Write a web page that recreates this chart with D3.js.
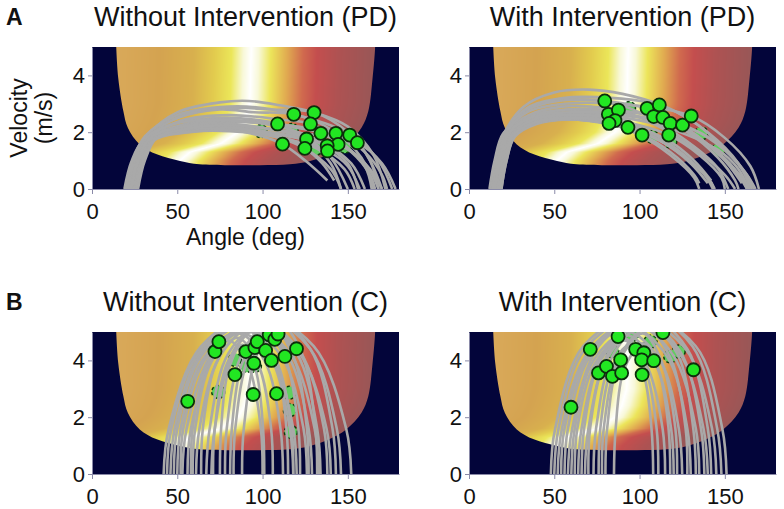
<!DOCTYPE html>
<html>
<head>
<meta charset="utf-8">
<script src="https://cdn.jsdelivr.net/npm/d3@7"></script>
<style>
  body { margin: 0; background: #fff; }
  text { font-family: "Liberation Sans", Arial, sans-serif; }
</style>
</head>
<body>
<script>
// ---- tick labels ----
const angleTicks = [0, 50, 100, 150];
const velTicks = [0, 2, 4];

// ---- edge of the coloured region (angle, lowest velocity) ----
const edgeAngle = [14, 14.2, 15.4, 18.4, 21, 28, 38, 51.6, 63, 90, 116, 128, 139, 149, 158, 162, 164.5, 166, 166];
const edgeVel   = [5.4, 5, 3.9, 2.74, 2.16, 1.57, 1.22, 0.99, 0.87, 0.84, 0.87, 0.99, 1.22, 1.57, 2.16, 2.74, 3.9, 5, 5.4];

// ---- colour bands along angle (read at the top of the map) ----
const stopAngle = [14, 40, 60, 72, 82, 89, 93.5, 98, 105, 115, 124, 132, 145, 166];
const stopColor = ["#d9a95a", "#d4a350", "#d8b04e", "#e2cb4e", "#ebe659", "#f8f8d8", "#ffffff",
                   "#f8f8d8", "#ece55a", "#e0a850", "#d06a4e", "#c44e4e", "#ae5252", "#985757"];

// ---- how far the bands lean left near the bottom of the map ----
const bendVel   = [0.8, 1.0, 1.3, 1.6, 2.0, 2.4, 3.0, 5.2];
const bendShift = [-44, -42, -36, -18, -8, -4, -1, 0];

// ---- trajectories: [angle (deg), velocity (m/s)] ----
const trajPDWithout = [
  [[22,0],[26,1.0],[33,1.9],[50,2.7],[75,3.05],[92,3.1],[110,2.95],[130,2.7],[150,2.2],[165,1.2],[172,0]],
  [[21,0],[25,1.0],[32,1.9],[50,2.5],[75,2.8],[95,2.7],[118.3,2.63],[140,2.1],[158,1.1],[165,0]],
  [[24,0],[28,1.0],[35,1.9],[52,2.55],[80,2.85],[105,2.8],[130.2,2.69],[150,2.0],[163,1.0],[168,0]],
  [[20,0],[24,1.0],[31,1.8],[48,2.3],[75,2.5],[95,2.45],[108.8,2.29],[125,1.8],[140,0.9],[146,0]],
  [[23,0],[27,1.0],[34,1.8],[52,2.4],[80,2.6],[110,2.45],[128.1,2.29],[145,1.7],[160,0.8],[164,0]],
  [[25,0],[29,1.0],[36,1.8],[55,2.3],[85,2.4],[115,2.2],[134.2,1.96],[152,1.3],[163,0.5],[166,0]],
  [[22,0],[26,1.0],[33,1.75],[55,2.2],[90,2.35],[120,2.2],[143,1.96],[160,1.3],[170,0.5],[173,0]],
  [[26,0],[30,1.0],[37,1.8],[58,2.3],[90,2.4],[125,2.15],[151.1,1.9],[168,1.0],[176,0]],
  [[21,0],[25,0.95],[32,1.7],[52,2.1],[85,2.2],[125,1.95],[155.6,1.63],[170,0.9],[178,0]],
  [[24,0],[28,1.0],[35,1.7],[55,2.05],[90,2.1],[120,1.85],[144.3,1.57],[160,0.9],[168,0]],
  [[19,0],[23,0.95],[30,1.7],[50,2.1],[85,2.15],[115,1.85],[137.9,1.52],[152,0.9],[160,0]],
  [[23,0],[27,0.95],[34,1.7],[55,2.0],[90,2.0],[118,1.7],[138.1,1.34],[150,0.8],[157,0]],
  [[20,0],[24,1.0],[31,1.75],[50,2.2],[80,2.3],[105,2.1],[125.8,1.76],[140,1.1],[150,0]],
  [[25,0],[29,0.95],[36,1.7],[57,2.0],[88,2.05],[110,1.8],[124.8,1.43],[135,0.9],[142,0.3]],
  [[22,0],[26,0.95],[33,1.7],[52,2.1],[80,2.1],[100,1.85],[111.7,1.58],[125,1.0],[138,0.3]],
  [[27,0],[31,1.0],[38,1.8],[58,2.25],[85,2.2],[98.8,2.04],[120,1.6],[140,0.7],[146,0]],
  [[21,0],[25,1.0],[32,1.8],[52,2.35],[85,2.4],[117,2.08],[135,1.6],[150,0.9],[156,0]],
  [[23,0],[27,1.0],[34,1.8],[55,2.2],[90,2.1],[115,1.75],[131.6,1.43],[148,0.7],[154,0]],
  [[26,0],[30,1.0],[37,1.75],[58,2.15],[95,2.2],[125,1.85],[148.2,1.49],[163,0.7],[170,0]],
  [[20,0],[24,1.0],[31,1.85],[50,2.6],[80,2.9],[100,2.85],[120,2.6],[145,2.1],[160,1.3],[170,0]]
];
const trajPDWith = [
  [[13,0],[16,1.0],[21,2.0],[32,2.9],[50,3.4],[70,3.5],[90,3.35],[115,2.9],[140,2.0],[158,0.9],[165,0]],
  [[14,0],[17,1.0],[22,2.0],[33,2.75],[50,3.1],[65,3.15],[79.6,3.1],[100,2.7],[125,1.8],[145,0.8],[152,0]],
  [[12,0],[15,1.0],[20,1.95],[32,2.5],[50,2.75],[68,2.75],[81.7,2.63],[100,2.2],[122,1.4],[138,0.5],[143,0]],
  [[15,0],[18,1.0],[23,2.0],[35,2.6],[55,2.9],[72,2.9],[87.6,2.78],[108,2.3],[130,1.5],[150,0.5],[156,0]],
  [[16,0],[19,1.0],[24,1.95],[36,2.45],[55,2.6],[72,2.55],[85.6,2.41],[105,1.95],[125,1.2],[140,0.4],[144,0]],
  [[17,0],[20,1.0],[25,1.9],[38,2.35],[58,2.5],[78,2.4],[93.2,2.17],[112,1.7],[130,0.9],[140,0.2]],
  [[13,0],[16,1.0],[21,2.0],[33,2.75],[52,3.1],[78,3.1],[104.4,2.84],[125,2.25],[145,1.3],[160,0.4],[163,0]],
  [[14,0],[17,1.0],[22,2.05],[34,2.85],[55,3.2],[85,3.2],[111.6,2.96],[132,2.35],[150,1.4],[164,0.4],[167,0]],
  [[18,0],[21,1.0],[26,1.95],[38,2.55],[58,2.8],[85,2.75],[108.3,2.55],[128,2.0],[146,1.1],[156,0.3],[158,0]],
  [[15,0],[18,1.0],[23,1.95],[36,2.55],[58,2.8],[88,2.75],[113.7,2.52],[133,1.9],[150,1.0],[160,0.2]],
  [[16,0],[19,1.0],[24,1.9],[37,2.45],[60,2.65],[90,2.6],[118,2.31],[137,1.7],[153,0.9],[163,0]],
  [[19,0],[22,1.0],[27,1.9],[40,2.4],[62,2.6],[95,2.55],[125.2,2.25],[145,1.6],[160,0.7],[166,0]],
  [[14,0],[17,1.0],[22,2.0],[34,2.7],[56,3.0],[95,2.95],[130.3,2.57],[150,1.8],[165,0.8],[170,0]],
  [[18,0],[21,1.0],[26,1.85],[38,2.3],[58,2.45],[82,2.3],[101.5,1.9],[118,1.3],[132,0.5],[135,0.2]],
  [[17,0],[20,1.0],[25,1.9],[38,2.4],[60,2.55],[92,2.35],[117.1,1.9],[135,1.2],[148,0.4],[150,0]],
  [[19,0],[22,1.0],[27,1.85],[40,2.3],[58,2.45],[72,2.4],[82.1,2.31],[100,1.9],[118,1.2],[132,0.4],[135,0]],
  [[16,0],[19,1.0],[24,1.85],[37,2.3],[58,2.45],[85,2.25],[107.2,1.84],[125,1.2],[140,0.4],[144,0]],
  [[15,0],[18,1.0],[23,1.95],[36,2.5],[60,2.7],[100,2.55],[136.3,1.96],[152,1.3],[163,0.5],[168,0]],
  [[17,0],[20,1.0],[25,1.9],[38,2.45],[62,2.6],[105,2.35],[146.2,1.37],[158,0.7],[164,0]],
  [[18,0],[21,1.0],[26,1.9],[39,2.35],[60,2.5],[92,2.3],[118,1.67],[132,1.0],[142,0.3]]
];
const trajCWithout = [
  [[42,0],[45,1.6],[64,4.5],[97,5.6],[130,4.5],[149,1.6],[152,0]],
  [[44,0],[46.5,1.6],[63,4.3],[92,5.4],[121,4.3],[137.5,1.6],[140,0]],
  [[46,0],[48.5,1.6],[64,4.25],[90,5.3],[116,4.25],[130.5,1.6],[133,0]],
  [[48,0],[50,1.6],[64,4.15],[88,5.2],[111,4.15],[124,1.6],[126,0]],
  [[50,0],[52,1.6],[64.5,4.0],[86,5.0],[106,4.0],[118,1.6],[120,0]],
  [[53,0],[55.5,1.6],[72,4.4],[101,5.5],[128,4.4],[143.5,1.6],[146,0]],
  [[56,0],[58,1.6],[73,4.3],[98,5.4],[122,4.3],[136,1.6],[138,0]],
  [[59,0],[60.5,1.6],[70,3.95],[86,4.95],[101.5,3.95],[110.5,1.6],[112,0]],
  [[61,0],[63,1.6],[75,4.15],[95,5.2],[115,4.15],[127,1.6],[129,0]],
  [[64,0],[65,1.6],[72.5,3.85],[85,4.8],[97.5,3.85],[105,1.6],[106,0]],
  [[67,0],[69,1.6],[80,4.25],[100,5.3],[120,4.25],[132,1.6],[134,0]],
  [[71,0],[72,1.6],[80,4.0],[94,5.0],[108,4.0],[117,1.6],[118,0]],
  [[75,0],[75.7,1.6],[80,3.65],[88,4.55],[96,3.65],[100.3,1.6],[101,0]],
  [[78,0],[79,1.6],[87,4.1],[100,5.1],[113,4.1],[121,1.6],[122,0]],
  [[81,0],[82,1.6],[88,3.9],[98,4.85],[108,3.9],[114,1.6],[115,0]],
  [[70,0],[72,1.6],[84,4.4],[106,5.5],[128,4.4],[141,1.6],[143,0]],
  [[83,0],[84,1.6],[92,4.15],[105,5.2],[118,4.15],[126,1.6],[127,0]],
  [[58,0],[59,1.6],[67,3.75],[80,4.7],[92,3.75],[99,1.6],[100,0]],
  [[52,0],[53.5,1.6],[67,4.1],[90,5.1],[105,4.1],[116,1.6],[118,0]],
  [[88,0],[89,1.6],[97,4.25],[110,5.3],[123,4.25],[131,1.6],[132,0]]
];
const trajCWith = [
  [[48,0],[50.5,1.6],[67,4.5],[100,5.6],[133,4.5],[148.5,1.6],[151,0]],
  [[50,0],[52.5,1.6],[68,4.4],[98,5.5],[127,4.4],[142.5,1.6],[145,0]],
  [[52,0],[54.5,1.6],[70,4.3],[97,5.4],[123,4.3],[137.5,1.6],[140,0]],
  [[54,0],[56,1.6],[70.5,4.25],[95,5.3],[119,4.25],[133,1.6],[135,0]],
  [[56,0],[58,1.6],[71,4.15],[94,5.2],[116,4.15],[128,1.6],[130,0]],
  [[58,0],[60.5,1.6],[76,4.5],[104,5.6],[131,4.5],[145.5,1.6],[148,0]],
  [[60,0],[62,1.6],[73,4.0],[93,5.0],[112,4.0],[123,1.6],[125,0]],
  [[62,0],[63.5,1.6],[74,3.9],[92,4.9],[109,3.9],[118.5,1.6],[120,0]],
  [[64,0],[66,1.6],[79,4.3],[102,5.4],[124,4.3],[136,1.6],[138,0]],
  [[66,0],[67.5,1.6],[76,3.85],[90,4.8],[104,3.85],[113.5,1.6],[115,0]],
  [[68,0],[70,1.6],[83,4.4],[106,5.5],[128,4.4],[140,1.6],[142,0]],
  [[70,0],[71,1.6],[78.5,3.75],[91,4.7],[103,3.75],[110,1.6],[111,0]],
  [[73,0],[74.5,1.6],[85,4.25],[104,5.3],[122,4.25],[131.5,1.6],[133,0]],
  [[76,0],[77,1.6],[83,3.6],[93,4.5],[102,3.6],[107,1.6],[108,0]],
  [[78,0],[79,1.6],[88,4.1],[104,5.1],[118,4.1],[127,1.6],[128,0]],
  [[80,0],[81,1.6],[88,3.95],[102,4.95],[113,3.95],[121,1.6],[122,0]],
  [[85,0],[86,1.6],[91,3.7],[102,4.6],[111,3.7],[117,1.6],[118,0]]
];

// ---- release points (solid) and faded release points (dashed) ----
const releasePDWithout = [[108.8,2.29],[118.3,2.63],[130.2,2.69],[128.1,2.29],[134.2,1.96],[143,1.96],[151.1,1.9],
  [155.6,1.63],[144.3,1.57],[137.9,1.52],[138.1,1.34],[125.8,1.76],[124.8,1.43],[111.7,1.58]];
const dashedPDWithout = [[98.8,2.04],[117,2.08],[131.6,1.43],[148.2,1.49]];
const releasePDWith = [[79.6,3.1],[81.7,2.63],[87.6,2.78],[85.6,2.41],[93.2,2.17],[104.4,2.84],[111.6,2.96],
  [108.3,2.55],[113.7,2.52],[118,2.31],[125.2,2.25],[130.3,2.57],[101.5,1.9],[117.1,1.9],[82.1,2.31]];
const dashedPDWith = [[93.8,2.85],[107.2,1.84],[136.3,1.96],[146.2,1.37],[118,1.67]];
const releaseCWithout = [[56.1,2.56],[72.1,4.31],[74.4,4.66],[83.8,3.5],[90.2,4.31],[95.5,4.45],[96.9,4.66],
  [94.9,3.9],[94.5,2.8],[101.8,4.35],[103.9,4.9],[107.2,4.74],[109.1,4.93],[105.2,4.0],[113.1,4.14],[119.9,4.41],[108.2,2.83]];
const dashedCWithout = [[74,2.89],[83.8,4.02],[90.6,3.81],[95.5,3.81],[115.6,2.86],[116,2.25],[116.6,1.48]];
const releaseCWith = [[59.8,2.35],[71.1,4.39],[87.4,4.84],[75.9,3.56],[80.6,3.79],[84.1,3.44],[89.5,3.56],
  [97.7,4.39],[102.5,4.27],[101.2,4.02],[101.5,3.5],[108.3,3.99],[113.7,4.98],[131.6,3.67],[88.9,4.02]];
const dashedCWith = [[84.1,4.31],[95.7,4.9],[106.4,4.66],[118,4.14],[122.9,4.31]];

// ---- layout ----
const W = 784, H = 509;
const plotW = 307, plotH = 142;
const navy = "#03053a";

const panels = [
  {letter: "A", title: "Without Intervention (PD)", left: 92, top: 47, traj: trajPDWithout, solid: releasePDWithout, dashed: dashedPDWithout, labels: true},
  {letter: null, title: "With Intervention (PD)", left: 469, top: 47, traj: trajPDWith, solid: releasePDWith, dashed: dashedPDWith},
  {letter: "B", title: "Without Intervention (C)", left: 92, top: 332, traj: trajCWithout, solid: releaseCWithout, dashed: dashedCWithout},
  {letter: null, title: "With Intervention (C)", left: 469, top: 332, traj: trajCWith, solid: releaseCWith, dashed: dashedCWith}
];

const x = d3.scaleLinear().domain([0, 180]).range([0, plotW]);
const y = d3.scaleLinear().domain([0, 5]).range([plotH, 0]);

// Build the background map once on a canvas, then reuse as an image
function makeField() {
  const shift = d3.scaleLinear().domain(bendVel).range(bendShift).clamp(true);
  const col = d3.scaleLinear().domain(stopAngle).range(stopColor).clamp(true);

  const field = document.createElement("canvas");
  field.width = plotW; field.height = plotH;
  const fctx = field.getContext("2d");
  const img = fctx.createImageData(plotW, plotH);
  for (let j = 0; j < plotH; j++) {
    const v = y.invert(j + 0.5);
    const s = shift(v);
    for (let i = 0; i < plotW; i++) {
      const c = d3.rgb(col(x.invert(i + 0.5) - s));
      const k = (j * plotW + i) * 4;
      img.data[k] = c.r; img.data[k + 1] = c.g; img.data[k + 2] = c.b; img.data[k + 3] = 255;
    }
  }
  fctx.putImageData(img, 0, 0);

  const out = document.createElement("canvas");
  out.width = plotW; out.height = plotH;
  const ctx = out.getContext("2d");
  ctx.fillStyle = navy;
  ctx.fillRect(0, 0, plotW, plotH);
  ctx.save();
  ctx.beginPath();
  d3.line()
    .x(d => x(d[0]))
    .y(d => y(d[1]))
    .curve(d3.curveCatmullRom)
    .context(ctx)(edgeAngle.map((a, i) => [a, edgeVel[i]]));
  ctx.closePath();
  ctx.clip();
  ctx.drawImage(field, 0, 0);
  ctx.restore();
  return out.toDataURL();
}
const fieldURL = makeField();

const svg = d3.select("body")
  .append("svg")
  .attr("width", W)
  .attr("height", H)
  .style("display", "block");

const line = d3.line()
  .x(d => x(d[0]))
  .y(d => y(d[1]))
  .curve(d3.curveCatmullRom.alpha(0.5));

panels.forEach((p, idx) => {
  const g = svg.append("g").attr("transform", "translate(" + p.left + "," + p.top + ")");

  g.append("clipPath").attr("id", "clip" + idx)
    .append("rect").attr("width", plotW).attr("height", plotH);

  g.append("image")
    .attr("href", fieldURL)
    .attr("width", plotW)
    .attr("height", plotH)
    .attr("preserveAspectRatio", "none");

  const plot = g.append("g").attr("clip-path", "url(#clip" + idx + ")");

  // faded release points sit under the lines
  plot.selectAll(".dashed")
    .data(p.dashed)
    .enter().append("circle")
    .attr("cx", d => x(d[0]))
    .attr("cy", d => y(d[1]))
    .attr("r", 6.5)
    .style("fill", "#5fcf5f")
    .style("stroke", "#0d3a0d")
    .style("stroke-width", 1.5)
    .style("stroke-dasharray", "3,2.5");

  plot.selectAll(".traj")
    .data(p.traj)
    .enter().append("path")
    .attr("d", line)
    .style("fill", "none")
    .style("stroke", "#a9a9a9")
    .style("stroke-width", 2.6);

  plot.selectAll(".rel")
    .data(p.solid)
    .enter().append("circle")
    .attr("cx", d => x(d[0]))
    .attr("cy", d => y(d[1]))
    .attr("r", 6.5)
    .style("fill", "#22e622")
    .style("stroke", "#0b2e0b")
    .style("stroke-width", 1.8);

  // axes
  const xAxis = g.append("g")
    .attr("transform", "translate(0," + plotH + ")")
    .call(d3.axisBottom(x).tickValues(angleTicks).tickFormat(d3.format("d"))
      .tickSize(5).tickSizeOuter(0).tickPadding(9));
  const yAxis = g.append("g")
    .call(d3.axisLeft(y).tickValues(velTicks).tickFormat(d3.format("d"))
      .tickSize(4).tickSizeOuter(0).tickPadding(3));

  [xAxis, yAxis].forEach(a => {
    a.attr("font-family", null).attr("font-size", null);
    a.select(".domain").style("stroke", "#8a8aa8");
    a.selectAll("line").style("stroke", "#8a8aa8");
    a.selectAll("text").style("font-size", "22px").style("fill", "#111");
  });

  // title
  svg.append("text")
    .attr("x", p.left + plotW / 2)
    .attr("y", p.top - 21)
    .attr("text-anchor", "middle")
    .style("font-size", "27px")
    .style("fill", "#111")
    .text(p.title);

  if (p.letter) {
    svg.append("text")
      .attr("x", 6)
      .attr("y", p.top - 22)
      .style("font-size", "23px")
      .style("font-weight", "bold")
      .style("fill", "#111")
      .text(p.letter);
  }

  if (p.labels) {
    svg.append("text")
      .attr("x", p.left + plotW / 2)
      .attr("y", 245)
      .attr("text-anchor", "middle")
      .style("font-size", "23px")
      .style("fill", "#111")
      .text("Angle (deg)");

    const cy = p.top + plotH / 2;
    svg.append("text")
      .attr("transform", "translate(27," + cy + ") rotate(-90)")
      .attr("text-anchor", "middle")
      .style("font-size", "23px")
      .style("fill", "#111")
      .text("Velocity");
    svg.append("text")
      .attr("transform", "translate(52," + cy + ") rotate(-90)")
      .attr("text-anchor", "middle")
      .style("font-size", "23px")
      .style("fill", "#111")
      .text("(m/s)");
  }
});
</script>
</body>
</html>
